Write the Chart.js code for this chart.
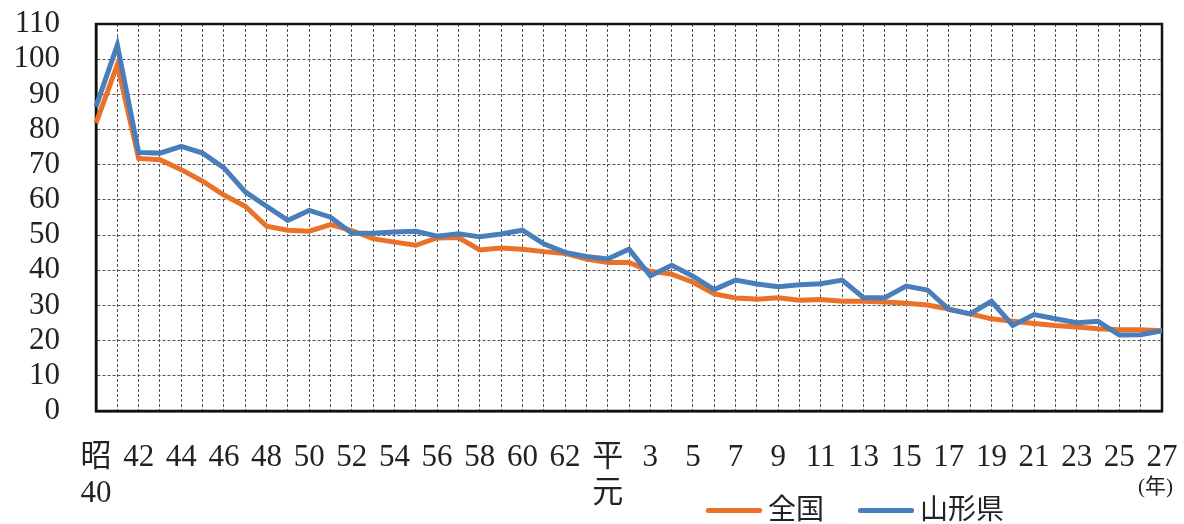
<!DOCTYPE html>
<html lang="ja">
<head>
<meta charset="UTF-8">
<title>全国・山形県</title>
<style>
  body {
    margin: 0;
    background: #fff;
  }
  .wrap {
    position: relative;
    width: 1184px;
    height: 524px;
  }
  .legend {
    position: absolute;
    left: 706px;
    top: 496px;
    display: flex;
    align-items: center;
    font-family: "Liberation Serif", "Noto Sans CJK JP", serif;
    font-size: 28px;
    line-height: 28px;
    color: #222;
  }
  .legend .swatch {
    display: inline-block;
    width: 56px;
    height: 5px;
    margin-right: 6px;
    border-radius: 2px;
  }
  .legend .item {
    display: flex;
    align-items: center;
    margin-right: 34px;
  }
  .unit {
    position: absolute;
    left: 1138px;
    top: 476px;
    font-family: "Liberation Serif", "Noto Sans CJK JP", serif;
    font-size: 21px;
    line-height: 21px;
    color: #222;
  }
</style>
</head>
<body>
<div class="wrap">
  <canvas id="chart" width="1184" height="524"></canvas>
  <div class="legend" id="legend"></div>
  <div class="unit">(年)</div>
</div>

<script src="https://cdn.jsdelivr.net/npm/chart.js"></script>
<script>
  // 昭和40年〜平成27年
  const categories = [
    '昭40','41','42','43','44','45','46','47','48','49','50','51','52','53','54','55',
    '56','57','58','59','60','61','62','63','平元','2','3','4','5','6','7','8','9','10',
    '11','12','13','14','15','16','17','18','19','20','21','22','23','24','25','26','27'
  ];
  const zenkoku = [
    81.8, 98.4, 71.8, 71.4, 68.6, 65.3, 61.4, 58.2, 52.5, 51.4, 51.1, 53.0, 51.3, 49.0,
    48.0, 47.1, 49.2, 49.3, 45.8, 46.3, 46.0, 45.3, 44.8, 43.2, 42.2, 42.2, 39.7, 38.9,
    36.6, 33.3, 32.1, 31.8, 32.2, 31.5, 31.7, 31.2, 31.2, 31.0, 30.6, 30.1, 29.0, 27.6,
    26.2, 25.5, 24.9, 24.3, 23.9, 23.4, 23.1, 23.1, 22.8
  ];
  const yamagata = [
    86.5, 104.0, 73.5, 73.3, 75.2, 73.3, 69.1, 62.3, 58.2, 54.2, 57.0, 55.1, 50.5, 50.5,
    50.9, 51.1, 49.7, 50.4, 49.5, 50.3, 51.4, 47.5, 45.1, 43.9, 43.2, 46.0, 38.4, 41.4,
    38.3, 34.5, 37.2, 36.1, 35.3, 35.9, 36.2, 37.2, 32.2, 32.2, 35.5, 34.4, 28.9, 27.6,
    31.2, 24.3, 27.4, 26.2, 25.1, 25.5, 21.6, 21.7, 22.8
  ];
  const seriesNames = ['全国', '山形県'];
  const seriesColors = ['#E97129', '#4A7EBB'];

  const serif = '"Liberation Serif", "Noto Sans CJK JP", serif';

  // outer frame of the plot area
  const framePlugin = {
    id: 'frame',
    beforeDatasetsDraw(chart) {
      const { ctx, chartArea: a } = chart;
      ctx.save();
      ctx.strokeStyle = '#111';
      ctx.lineWidth = 2.5;
      ctx.strokeRect(a.left, a.top, a.right - a.left, a.bottom - a.top);
      ctx.restore();
    }
  };

  const chart = new Chart(document.getElementById('chart'), {
    type: 'line',
    data: {
      labels: categories,
      datasets: [
        {
          label: seriesNames[0],
          data: zenkoku,
          borderColor: seriesColors[0],
          backgroundColor: seriesColors[0],
          borderWidth: 5,
          pointRadius: 0,
          tension: 0,
          order: 1
        },
        {
          label: seriesNames[1],
          data: yamagata,
          borderColor: seriesColors[1],
          backgroundColor: seriesColors[1],
          borderWidth: 5,
          pointRadius: 0,
          tension: 0,
          order: 0
        }
      ]
    },
    options: {
      responsive: false,
      animation: false,
      layout: { padding: { left: 0, right: 22, top: 24, bottom: 0 } },
      plugins: {
        legend: { display: false },
        tooltip: { enabled: false }
      },
      scales: {
        x: {
          offset: false,
          // invisible tick marks keep labels away from the axis without extra chart padding
          grid: { color: '#555', lineWidth: 1, drawTicks: true, tickLength: 29, tickColor: 'rgba(0,0,0,0)' },
          border: { display: true, color: '#111', width: 2.5, dash: [3, 2] },
          ticks: {
            autoSkip: false,
            maxRotation: 0,
            minRotation: 0,
            padding: 0,
            color: '#222',
            font: { family: serif, size: 31, lineHeight: 1.15 },
            callback: function (value, index) {
              if (index % 2) return '';
              const lab = categories[index];
              if (lab[0] === '昭' || lab[0] === '平') return [lab[0], lab.slice(1)];
              return lab;
            }
          },
          afterFit(scale) { scale.height = 113; }
        },
        y: {
          min: 0,
          max: 110,
          grid: { color: '#555', lineWidth: 1, drawTicks: true, tickLength: 36, tickColor: 'rgba(0,0,0,0)' },
          border: { display: true, color: '#111', width: 2.5, dash: [3, 2] },
          ticks: {
            stepSize: 10,
            autoSkip: false,
            padding: 0,
            color: '#222',
            font: { family: serif, size: 31 }
          },
          afterFit(scale) { scale.width = 96; }
        }
      }
    },
    plugins: [framePlugin]
  });

  // legend
  const legend = document.getElementById('legend');
  seriesNames.forEach((name, i) => {
    const item = document.createElement('div');
    item.className = 'item';
    item.innerHTML = '<span class="swatch" style="background:' + seriesColors[i] + '"></span>' + name;
    legend.appendChild(item);
  });
</script>
</body>
</html>
